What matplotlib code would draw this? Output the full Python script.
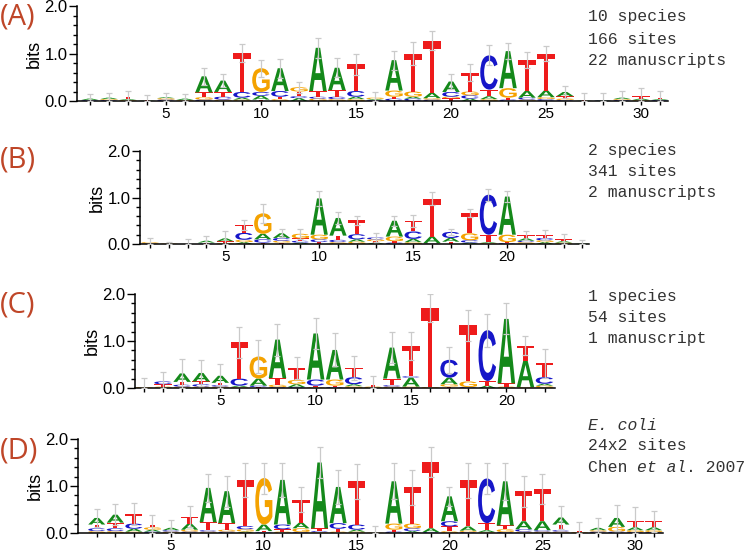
import matplotlib
matplotlib.use("Agg")
import matplotlib.pyplot as plt
from matplotlib.textpath import TextPath
from matplotlib.patches import PathPatch
from matplotlib.font_manager import FontProperties
from matplotlib import transforms

# stacks: letters bottom -> top with their height in bits, plus top of the error bar
stacks_a = [
    [("C", .02), ("A", .03)], [("C", .02), ("G", .02), ("A", .03)], [("G", .02), ("A", .02), ("T", .05)],
    [("A", .01), ("T", .01)], [("C", .03), ("G", .03), ("A", .02)], [("G", .02), ("A", .03)],
    [("C", .03), ("G", .05), ("T", .10), ("A", .34)], [("G", .03), ("C", .06), ("T", .10), ("A", .24)],
    [("G", .03), ("A", .04), ("C", .12), ("T", .82)], [("T", .03), ("A", .08), ("C", .08), ("G", .50)],
    [("G", .04), ("T", .05), ("C", .12), ("A", .48)], [("A", .06), ("C", .04), ("T", .10), ("G", .09)],
    [("G", .05), ("C", .04), ("T", .12), ("A", .91)], [("G", .04), ("C", .05), ("T", .14), ("A", .47)],
    [("G", .04), ("A", .05), ("C", .12), ("T", .56)], [("C", .02), ("A", .02), ("G", .03)],
    [("C", .05), ("T", .04), ("G", .13), ("A", .64)], [("C", .05), ("A", .04), ("G", .11), ("T", .80)],
    [("C", .03), ("G", .03), ("A", .11), ("T", 1.10)], [("T", .06), ("G", .03), ("C", .10), ("A", .22)],
    [("A", .05), ("C", .07), ("G", .08), ("T", .40)], [("G", .04), ("A", .06), ("T", .14), ("C", .72)],
    [("C", .03), ("T", .04), ("G", .20), ("A", .78)], [("G", .03), ("C", .04), ("A", .14), ("T", .65)],
    [("C", .04), ("G", .04), ("A", .14), ("T", .78)], [("C", .02), ("G", .03), ("T", .05), ("A", .09)],
    [("A", .01), ("T", .01)], [("C", .01), ("A", .01)], [("C", .02), ("G", .02), ("A", .03)],
    [("G", .02), ("A", .03), ("T", .05)], [("C", .02), ("A", .02), ("T", .03)],
]
err_a = [.14, .16, .22, .13, .16, .15, .70, .56, 1.20, .87, .89, .41, 1.33, .90, 1.00, .20,
         1.06, 1.24, 1.47, .57, .78, 1.17, 1.22, 1.03, 1.16, .31, .16, .16, .21, .27, .21]

stacks_b = [
    [("C", .01), ("G", .03)], [("G", .01)], [("T", .005)], [("C", .01), ("T", .02), ("A", .04)],
    [("G", .02), ("T", .04), ("A", .06)], [("A", .04), ("G", .05), ("C", .15), ("T", .17)],
    [("T", .03), ("C", .07), ("A", .12), ("G", .44)], [("T", .03), ("G", .04), ("C", .06), ("A", .10)],
    [("A", .03), ("C", .04), ("T", .05), ("G", .10)], [("T", .04), ("C", .06), ("G", .10), ("A", .78)],
    [("G", .04), ("C", .05), ("T", .09), ("A", .38)], [("G", .05), ("A", .05), ("C", .11), ("T", .30)],
    [("A", .03), ("T", .03), ("G", .04), ("C", .04)], [("C", .03), ("T", .03), ("G", .10), ("A", .34)],
    [("G", .04), ("A", .07), ("C", .16), ("T", .23)], [("G", .01), ("C", .01), ("A", .14), ("T", .81)],
    [("T", .05), ("A", .08), ("C", .13)], [("A", .03), ("C", .05), ("G", .15), ("T", .43)],
    [("G", .02), ("A", .02), ("T", .16), ("C", .86)], [("C", .02), ("T", .02), ("G", .16), ("A", .82)],
    [("G", .04), ("C", .03), ("A", .05), ("T", .07)], [("A", .04), ("G", .04), ("C", .05), ("T", .06)],
    [("G", .03), ("A", .03), ("T", .04)], [("A", .01)],
]
err_b = [.13, .04, .11, .18, .28, .52, .86, .32, .33, 1.14, .68, .61, .24, .61, .63, 1.11,
         .33, .75, 1.19, 1.14, .29, .30, .21, .08]

stacks_c = [
    [("G", .02)], [("G", .03), ("T", .05), ("C", .06)], [("G", .03), ("C", .04), ("T", .06), ("A", .18)],
    [("G", .03), ("C", .05), ("T", .06), ("A", .18)], [("G", .03), ("C", .03), ("T", .05), ("A", .15)],
    [("G", .02), ("A", .03), ("C", .15), ("T", .77)], [("T", .02), ("C", .03), ("A", .15), ("G", .47)],
    [("C", .02), ("G", .05), ("T", .14), ("A", .82)], [("C", .02), ("A", .06), ("G", .09), ("T", .26)],
    [("G", .02), ("T", .03), ("C", .13), ("A", .98)], [("C", .02), ("T", .03), ("G", .13), ("A", .63)],
    [("G", .04), ("A", .04), ("C", .15), ("T", .20)], [("G", .03), ("T", .03)],
    [("G", .03), ("C", .03), ("T", .14), ("A", .66)], [("G", .03), ("A", .19), ("C", .03), ("T", .65)],
    [("G", .02), ("T", 1.68)], [("T", .03), ("G", .05), ("A", .14), ("C", .38)],
    [("C", .02), ("G", .12), ("T", 1.19)], [("A", .05), ("T", .10), ("C", 1.08)],
    [("G", .03), ("T", .07), ("A", 1.37)], [("G", .02), ("A", .56), ("T", .32)],
    [("G", .05), ("A", .04), ("C", .14), ("T", .30)],
]
err_c = [.21, .35, .62, .60, .52, 1.30, 1.03, 1.37, .67, 1.49, 1.16, .69, .25, 1.19, 1.20, 2.0,
         .88, 1.65, 1.58, 1.80, 1.10, .84]

stacks_d = [
    [("G", .04), ("C", .06), ("T", .08), ("A", .14)], [("G", .04), ("C", .06), ("T", .12), ("A", .17)],
    [("G", .03), ("A", .06), ("C", .11), ("T", .20)], [("C", .03), ("A", .04), ("G", .05), ("T", .06)],
    [("G", .03), ("C", .03), ("A", .05)], [("C", .03), ("G", .04), ("A", .13), ("T", .15)],
    [("G", .03), ("C", .03), ("T", .17), ("A", .73)], [("C", .03), ("G", .04), ("T", .14), ("A", .68)],
    [("A", .03), ("G", .05), ("C", .07), ("T", .98)], [("C", .02), ("T", .02), ("A", .14), ("G", .99)],
    [("G", .03), ("T", .05), ("C", .10), ("A", .95)], [("C", .02), ("G", .08), ("A", .12), ("T", .49)],
    [("G", .02), ("C", .02), ("T", .06), ("A", 1.40)], [("G", .03), ("T", .06), ("C", .12), ("A", .77)],
    [("G", .03), ("A", .04), ("C", .11), ("T", .92)], [("G", .01)],
    [("C", .03), ("T", .04), ("G", .13), ("A", .90)], [("A", .04), ("C", .06), ("G", .10), ("T", .77)],
    [("C", .02), ("A", .08), ("T", 1.41)], [("G", .04), ("T", .10), ("C", .11), ("A", .53)],
    [("C", .02), ("G", .03), ("A", .09), ("T", .98)], [("G", .02), ("A", .04), ("T", .15), ("C", .95)],
    [("C", .02), ("G", .06), ("T", .08), ("A", .94)], [("G", .03), ("C", .05), ("A", .17), ("T", .64)],
    [("G", .03), ("C", .03), ("A", .19), ("T", .69)], [("G", .03), ("C", .03), ("T", .12), ("A", .15)],
    [("G", .02), ("T", .03)], [("C", .03), ("G", .03), ("A", .05)], [("C", .03), ("G", .10), ("A", .19)],
    [("C", .02), ("G", .04), ("A", .06), ("T", .14)], [("C", .02), ("G", .04), ("A", .06), ("T", .13)],
]
err_d = [.52, .62, .64, .39, .28, .57, 1.26, 1.22, 1.50, 1.50, 1.50, .98, 1.83, 1.35, 1.47, .14,
         1.48, 1.35, 1.83, .98, 1.50, 1.50, 1.50, 1.22, 1.26, .57, .24, .32, .60, .55, .47]

panel_tags = ["(A)", "(B)", "(C)", "(D)"]
info_lines = [
    ["10 species", "166 sites", "22 manuscripts"],
    ["2 species", "341 sites", "2 manuscripts"],
    ["1 species", "54 sites", "1 manuscript"],
    ["E. coli", "24x2 sites"],
]
# last line of panel D split into (text, italic?) pieces
citation = [("Chen ", False), ("et al", True), (". 2007", False)]

colors = {"A": "#14891a", "C": "#1616c8", "G": "#f4a200", "T": "#ee1b1b"}
glyph_font = FontProperties(family="Liberation Sans", weight="bold")


def draw_letter(ax, letter, x, y0, h, width=0.92):
    tp = TextPath((0, 0), letter, size=1, prop=glyph_font)
    ext = tp.get_extents()
    tr = (transforms.Affine2D().translate(-ext.x0, -ext.y0)
          .scale(width / ext.width, h / ext.height)
          .translate(x - width / 2, y0))
    ax.add_patch(PathPatch(tr.transform_path(tp), facecolor=colors[letter],
                           edgecolor="none", transform=ax.transData))


def draw_logo(ax, stacks, errs, xlim):
    tops = []
    for i, stack in enumerate(stacks):
        pos = i + 1
        y = 0
        for letter, h in stack:
            draw_letter(ax, letter, pos, y, h)
            y += h
        tops.append(y)
    positions = list(range(1, len(stacks) + 1))
    up = [e - t for e, t in zip(errs, tops)]
    low = [min(u, t) for u, t in zip(up, tops)]
    ax.errorbar(positions, tops, yerr=[low, up], fmt="none", ecolor="#cacaca",
                elinewidth=0.9, capsize=2.5, capthick=0.9, zorder=3)
    ax.set_xlim(*xlim)
    ax.set_ylim(0, 2)
    ax.set_xticks(positions)
    ax.set_xticklabels([str(p) if p % 5 == 0 else "" for p in positions])
    ax.set_yticks([0, 1, 2])
    ax.set_yticklabels(["0.0", "1.0", "2.0"])
    ax.set_yticks([0.2, 0.4, 0.6, 0.8, 1.2, 1.4, 1.6, 1.8], minor=True)
    ax.tick_params(axis="x", length=3, width=1, labelsize=11, pad=1.5)
    ax.tick_params(axis="y", which="major", length=6, width=1, labelsize=12, pad=1)
    ax.tick_params(axis="y", which="minor", length=3, width=1)
    for side in ["top", "right"]:
        ax.spines[side].set_visible(False)
    for side in ["left", "bottom"]:
        ax.spines[side].set_linewidth(1.1)
    ax.set_ylabel("bits", fontsize=13, labelpad=1)
    for lab in ax.get_xticklabels() + ax.get_yticklabels():
        lab.set_family("Liberation Sans")
    ax.yaxis.label.set_family("Liberation Sans")


W, H = 750, 553
fig = plt.figure(figsize=(7.5, 5.53), dpi=100)

# axes frames in pixels: left, baseline, top, right
frames = [(77, 101, 6, 668), (140, 244, 151, 589), (135, 388, 294, 555), (78, 533, 439, 663)]
xlims = [(0.32, 31.42), (0.47, 24.35), (0.53, 22.55), (-0.01, 31.5)]
all_stacks = [stacks_a, stacks_b, stacks_c, stacks_d]
all_errs = [err_a, err_b, err_c, err_d]
tag_y = [17, 160, 305, 451]
text_y = [(17, 39, 60), (151, 172, 193), (296, 318, 339), (425, 446, 468)]

for k in range(4):
    left, base, top, right = frames[k]
    ax = fig.add_axes([left / W, 1 - base / H, (right - left) / W, (base - top) / H])
    draw_logo(ax, all_stacks[k], all_errs[k], xlims[k])
    fig.text(0.0, 1 - tag_y[k] / H, panel_tags[k], fontsize=21, color="#bf4628",
             family="Open Sans", va="center", ha="left")

mono_size = 11.8
mono = dict(fontsize=mono_size, color="#333333", family="Liberation Mono", va="center", ha="left")
tx = 588 / W
for k in range(3):
    for line, y in zip(info_lines[k], text_y[k]):
        fig.text(tx, 1 - y / H, line, **mono)

ys = text_y[3]
fig.text(tx, 1 - ys[0] / H, info_lines[3][0], style="italic", **mono)
fig.text(tx, 1 - ys[1] / H, info_lines[3][1], **mono)
nchar = 0
for piece, italic in citation:
    plt.annotate(piece, xy=(tx, 1 - ys[2] / H), xycoords="figure fraction",
                 xytext=(nchar * 0.6 * mono_size, 0), textcoords="offset points",
                 style="italic" if italic else "normal", **mono)
    nchar += len(piece)

fig.savefig("out.png", dpi=100)
